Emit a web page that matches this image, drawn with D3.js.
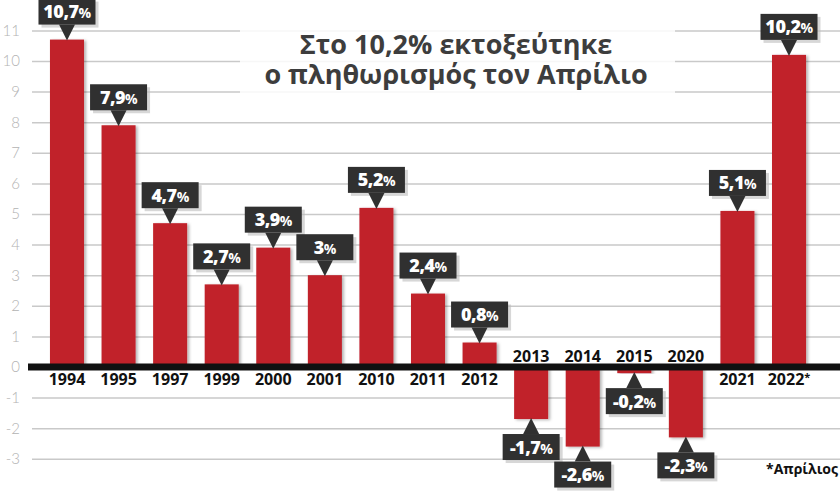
<!DOCTYPE html>
<html>

<head>
    <meta charset="utf-8">
    <script src="https://d3js.org/d3.v7.min.js"></script>
    <style>
        * {
            margin: 0;
            padding: 0;
        }

        body {
            width: 840px;
            height: 504px;
            background: #fff;
            overflow: hidden;
        }
    </style>
</head>

<body>
    <div id="chart"></div>
</body>
<script>
    // data
    let years = ["1994", "1995", "1997", "1999", "2000", "2001", "2010", "2011", "2012",
        "2013", "2014", "2015", "2020", "2021", "2022"];
    let values = [10.7, 7.9, 4.7, 2.7, 3.9, 3, 5.2, 2.4, 0.8, -1.7, -2.6, -0.2, -2.3, 5.1, 10.2];
    let labels = ["10,7", "7,9", "4,7", "2,7", "3,9", "3", "5,2", "2,4", "0,8",
        "-1,7", "-2,6", "-0,2", "-2,3", "5,1", "10,2"];
    let yTicks = [-3, -2, -1, 0, 1, 2, 3, 4, 5, 6, 7, 8, 9, 10, 11];
    let titleLines = ["Στο 10,2% εκτοξεύτηκε", "ο πληθωρισμός τον Απρίλιο"];
    let note = "*Απρίλιος";

    let data = years.map((d, i) => ({ year: d, value: values[i], label: labels[i] }));

    let width = 840, height = 504;

    let svg = d3.select("#chart").append("svg")
        .attr("width", width)
        .attr("height", height);

    let defs = svg.append("defs");
    defs.append("filter")
        .attr("id", "shadow")
        .attr("x", "-20%").attr("y", "-5%").attr("width", "150%").attr("height", "115%")
        .append("feDropShadow")
        .attr("dx", 2).attr("dy", 1)
        .attr("stdDeviation", 1.5)
        .attr("flood-color", "#000")
        .attr("flood-opacity", 0.3);

    let y = d3.scaleLinear()
        .domain([0, 11])
        .range([367, 30.4]);

    let x = d3.scaleBand()
        .domain(years)
        .range([41.2, 814.8])
        .paddingInner(0.34)
        .paddingOuter(0.17);

    // grid lines + tick labels
    let yAxis = g => g
        .call(d3.axisRight(y).tickValues(yTicks).tickSize(width - 32).tickFormat(d => d))
        .call(g => g.select(".domain").remove())
        .call(g => g.selectAll(".tick line")
            .attr("stroke", "#c9c9c9")
            .attr("stroke-width", 1.5))
        .call(g => g.selectAll(".tick text")
            .attr("x", -12)
            .attr("text-anchor", "end")
            .attr("fill", "#b3b3b3")
            .style("font-family", "Lato, 'Open Sans', sans-serif")
            .style("font-weight", 300)
            .style("font-size", "15px"));

    svg.append("g")
        .attr("transform", "translate(32,0)")
        .call(yAxis);

    // title panel
    svg.append("rect")
        .attr("x", 240).attr("y", 18)
        .attr("width", 435).attr("height", 82)
        .attr("fill", "#fff")
        .attr("opacity", 0.85);

    svg.append("text")
        .attr("text-anchor", "middle")
        .attr("fill", "#3d3d3d")
        .style("font-family", "'Open Sans', sans-serif")
        .style("font-weight", 700)
        .style("font-size", "27px")
        .selectAll("tspan")
        .data(titleLines)
        .join("tspan")
        .attr("x", 456)
        .attr("y", (d, i) => 54 + i * 30)
        .text(d => d);

    // bars
    svg.append("g")
        .selectAll("rect")
        .data(data)
        .join("rect")
        .attr("x", d => x(d.year))
        .attr("width", x.bandwidth())
        .attr("y", d => y(Math.max(0, d.value)))
        .attr("height", d => Math.abs(y(d.value) - y(0)))
        .attr("fill", "#c1222b")
        .attr("filter", "url(#shadow)");

    // zero line
    svg.append("line")
        .attr("x1", 28).attr("x2", width)
        .attr("y1", y(0)).attr("y2", y(0))
        .attr("stroke", "#111")
        .attr("stroke-width", 7);

    // year labels
    svg.append("g")
        .selectAll("text")
        .data(data)
        .join("text")
        .attr("x", d => x(d.year) + x.bandwidth() / 2)
        .attr("y", d => d.value < 0 ? y(0) - 5 : y(0) + 18)
        .attr("text-anchor", "middle")
        .attr("fill", "#111")
        .style("font-family", "'Open Sans', sans-serif")
        .style("font-weight", 700)
        .style("font-size", "16px")
        .text(d => d.year)
        .filter(d => d.year == "2022")
        .append("tspan")
        .attr("dy", -4)
        .style("font-size", "11px")
        .text("*");

    // value callouts
    let bw = 57, bh = 26, pl = 15, pw = 16;
    let callout = svg.append("g")
        .selectAll("g")
        .data(data)
        .join("g")
        .attr("transform", d => {
            let cx = x(d.year) + x.bandwidth() / 2;
            let top = d.value < 0 ? y(d.value) + pl : y(d.value) - pl - bh;
            return "translate(" + cx + "," + top + ")";
        });

    callout.append("rect")
        .attr("x", -bw / 2 + 3).attr("y", 3)
        .attr("width", bw).attr("height", bh)
        .attr("fill", "#bdbdbd")
        .attr("opacity", 0.6);

    callout.append("path")
        .attr("d", d => d.value < 0
            ? "M" + (-pw / 2) + ",0L0," + (-pl - 1) + "L" + (pw / 2) + ",0Z"
            : "M" + (-pw / 2) + "," + bh + "L0," + (bh + pl + 1) + "L" + (pw / 2) + "," + bh + "Z")
        .attr("fill", "#303030");

    callout.append("rect")
        .attr("x", -bw / 2).attr("y", 0)
        .attr("width", bw).attr("height", bh)
        .attr("fill", "#303030");

    let vt = callout.append("text")
        .attr("x", 0)
        .attr("y", 19.5)
        .attr("text-anchor", "middle")
        .attr("fill", "#fff")
        .style("font-family", "'Open Sans', sans-serif")
        .style("font-weight", 800)
        .style("font-size", "18px")
        .style("letter-spacing", "-0.5px");
    vt.append("tspan").text(d => d.label);
    vt.append("tspan").style("font-size", "14px").style("font-weight", 700).text("%");

    // footnote
    svg.append("text")
        .attr("x", 838)
        .attr("y", 474)
        .attr("text-anchor", "end")
        .attr("fill", "#111")
        .style("font-family", "'Open Sans', sans-serif")
        .style("font-weight", 700)
        .style("font-size", "14px")
        .text(note);

</script>

</html>
